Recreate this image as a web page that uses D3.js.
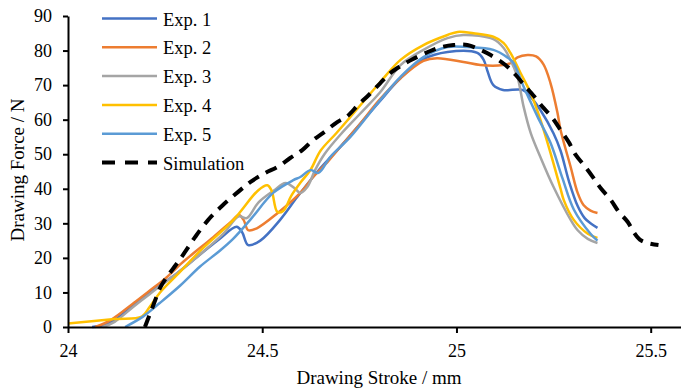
<!DOCTYPE html>
<meta charset="utf-8">
<style>
body{margin:0;background:#fff;}
svg text{font-family:"Liberation Serif","Times New Roman",serif;fill:#000;}
</style>
<svg id="chart" width="681" height="389"></svg>
<script src="https://d3js.org/d3.v7.min.js"></script>
<script>
// stroke (mm), force (N)
const exp1 = [[24.062,0],[24.09,0.5],[24.12,2],[24.17,6.5],[24.21,10],[24.28,15.5],[24.34,21],[24.39,25.5],[24.434,29],[24.448,27.5],[24.464,23.7],[24.495,25],[24.546,31],[24.59,37.6],[24.65,46],[24.70,52],[24.75,58.5],[24.80,65],[24.856,72],[24.915,77.5],[24.977,79.6],[25.054,79.3],[25.07,77.3],[25.08,74],[25.095,70],[25.12,68.6],[25.17,68.6],[25.191,66.6],[25.216,62.8],[25.25,56],[25.268,51],[25.29,42],[25.312,35],[25.33,31.5],[25.345,30],[25.363,28.7]]
const exp2 = [[24.07,0],[24.11,2],[24.17,7],[24.21,10.5],[24.25,14],[24.296,18.8],[24.374,26],[24.42,30.5],[24.44,32.4],[24.452,31],[24.464,28],[24.485,28.5],[24.54,33],[24.598,38.8],[24.631,43.4],[24.67,48],[24.70,52],[24.75,58.5],[24.80,65.5],[24.856,72],[24.915,77],[24.95,77.8],[25.018,76.7],[25.062,75.8],[25.12,75.8],[25.14,76.4],[25.157,78],[25.183,78.7],[25.205,78.3],[25.224,76],[25.242,70.6],[25.26,62],[25.268,57],[25.294,46.3],[25.312,38.8],[25.327,35.3],[25.345,33.7],[25.363,33]]
const exp3 = [[24.09,0],[24.12,1.5],[24.17,6],[24.21,9.5],[24.28,15.5],[24.34,21],[24.40,27],[24.44,32],[24.46,31.5],[24.49,36],[24.53,39.5],[24.56,41.7],[24.585,40],[24.598,38.8],[24.616,40.5],[24.636,45.4],[24.66,50],[24.70,55.5],[24.75,61.5],[24.804,68],[24.856,75.8],[24.915,80.2],[24.977,83.6],[25.018,84.5],[25.095,83.3],[25.121,80.8],[25.139,77.3],[25.157,72.4],[25.173,63.7],[25.191,56.2],[25.216,49.2],[25.25,40.5],[25.294,31],[25.312,28],[25.338,25.5],[25.363,24.3]]
const exp4 = [[24.0,1],[24.12,2.3],[24.19,3],[24.21,5.8],[24.237,10],[24.28,15],[24.34,22],[24.426,31],[24.49,39.6],[24.513,41],[24.524,39.5],[24.539,33.3],[24.554,33.6],[24.575,38],[24.60,42],[24.624,45.4],[24.65,51],[24.69,56],[24.727,60.8],[24.804,70.9],[24.856,77.3],[24.915,81.6],[24.977,84.5],[25.003,85.4],[25.044,85],[25.095,84],[25.121,82.2],[25.139,79.3],[25.165,73.5],[25.191,67.7],[25.216,60],[25.242,50.4],[25.268,40],[25.276,36.8],[25.302,31],[25.338,27],[25.363,25.8]]
const exp5 = [[24.147,0],[24.193,3],[24.237,7],[24.289,12],[24.34,17.5],[24.39,22],[24.425,25.5],[24.469,31],[24.528,38.8],[24.58,42.5],[24.598,43.4],[24.624,45.4],[24.645,44.6],[24.675,49.2],[24.727,55],[24.804,65.7],[24.856,72.4],[24.915,78.1],[24.977,81],[25.028,81],[25.095,80.2],[25.13,78.1],[25.147,76.4],[25.173,69.5],[25.209,60.8],[25.242,53.3],[25.273,43],[25.302,34],[25.345,27],[25.363,25]]
const simulation = [[24.198,0],[24.21,3.5],[24.222,7],[24.237,11.3],[24.258,15],[24.278,18],[24.30,21.5],[24.327,26],[24.361,31],[24.399,35.3],[24.438,39.1],[24.47,42],[24.508,44.6],[24.539,46.3],[24.572,48.9],[24.603,51.2],[24.631,54.1],[24.657,56.2],[24.693,59.3],[24.719,61],[24.747,64.3],[24.773,67],[24.804,70.6],[24.83,73.5],[24.856,75.5],[24.887,77.5],[24.925,79.5],[24.954,80.8],[24.992,81.6],[25.028,81.6],[25.062,80.2],[25.088,78.7],[25.126,75.8],[25.152,73],[25.178,69.5],[25.198,67],[25.224,63.4],[25.247,60.5],[25.268,57],[25.289,53.5],[25.307,49.8],[25.332,46.3],[25.353,43.1],[25.371,40.2],[25.397,36.8],[25.418,33.3],[25.441,30.4],[25.456,27.5],[25.472,25.3],[25.492,24.3],[25.52,23.7]]

const seriesNames = ['Exp. 1','Exp. 2','Exp. 3','Exp. 4','Exp. 5','Simulation']
const seriesData = [exp1, exp2, exp3, exp4, exp5, simulation]
const seriesColors = ['#4472C4','#ED7D31','#A5A5A5','#FFC000','#5B9BD5','#000']
const xTicks = [24, 24.5, 25, 25.5]
const yTicks = [0,10,20,30,40,50,60,70,80,90]

const svg = d3.select('#chart')
const x = d3.scaleLinear().domain([24, 25.578]).range([68, 681])
const y = d3.scaleLinear().domain([0, 90]).range([327, 16])

const line = d3.line()
  .x(d => x(d[0])).y(d => y(d[1]))
  .curve(d3.curveCatmullRom.alpha(0.5))

// curves, in excel order so simulation ends on top
seriesData.forEach((data, i) => {
  svg.append('path')
    .attr('d', line(data))
    .attr('fill', 'none')
    .attr('stroke', seriesColors[i])
    .attr('stroke-width', i == 5 ? 4 : 2.5)
    .attr('stroke-dasharray', i == 5 ? '12,8' : null)
    .attr('stroke-linejoin', 'round')
})

// axes
const xAxis = svg.append('g').attr('transform', 'translate(0,327)')
  .call(d3.axisBottom(x).tickValues(xTicks).tickFormat(d3.format('')).tickSize(6).tickSizeOuter(0).tickPadding(11))
const yAxis = svg.append('g').attr('transform', 'translate(68,0)')
  .call(d3.axisLeft(y).tickValues(yTicks).tickSize(5).tickSizeOuter(0).tickPadding(11))
xAxis.attr('font-family', null).attr('font-size', null)
yAxis.attr('font-family', null).attr('font-size', null)
svg.selectAll('.domain, .tick line').attr('stroke', '#000').attr('stroke-width', 2)
svg.selectAll('.tick text').style('font-size', '18px').attr('fill', '#000')
  .style('font-family', '"Liberation Serif", serif')

// axis titles
svg.append('text').attr('x', 379).attr('y', 384).attr('text-anchor', 'middle')
  .style('font-size', '19px').text('Drawing Stroke / mm')
svg.append('text').attr('transform', 'translate(24,170) rotate(-90)').attr('text-anchor', 'middle')
  .style('font-size', '19px').text('Drawing Force / N')

// legend
const legend = svg.append('g')
seriesNames.forEach((name, i) => {
  const ly = 18.5 + i * 28.8
  legend.append('line').attr('x1', 102).attr('x2', 157).attr('y1', ly).attr('y2', ly)
    .attr('stroke', seriesColors[i])
    .attr('stroke-width', i == 5 ? 4 : 2.5)
    .attr('stroke-dasharray', i == 5 ? '13,10' : null)
  legend.append('text').attr('x', 163).attr('y', ly + 7)
    .style('font-size', '18.5px').text(name)
})
</script>
